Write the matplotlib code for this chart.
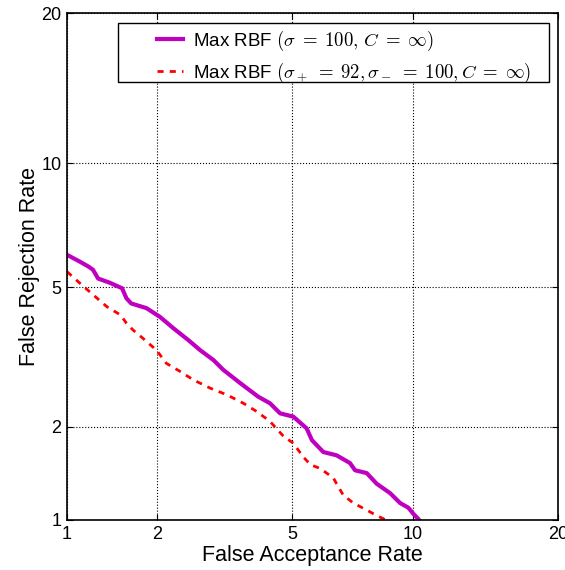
import numpy as np
import matplotlib
matplotlib.use('Agg')
import matplotlib.pyplot as plt
from matplotlib.patches import Rectangle
from matplotlib.ticker import FixedLocator, FixedFormatter
from statistics import NormalDist

# DET curve values (percent)
far_sigma = [1.0, 1.11, 1.19, 1.23, 1.28, 1.40, 1.54, 1.59, 1.65, 1.85, 2.04, 2.25,
             2.50, 2.72, 2.98, 3.19, 3.57, 4.02, 4.34, 4.63, 5.03, 5.46, 5.64, 6.04,
             6.54, 7.07, 7.28, 7.78, 8.23, 8.86, 9.36, 9.78, 10.04, 10.3, 10.45]
frr_sigma = [6.06, 5.82, 5.65, 5.55, 5.27, 5.14, 4.97, 4.68, 4.53, 4.40, 4.17, 3.88,
             3.60, 3.37, 3.16, 2.96, 2.71, 2.47, 2.36, 2.20, 2.15, 1.98, 1.82, 1.67,
             1.63, 1.54, 1.46, 1.43, 1.32, 1.23, 1.14, 1.10, 1.05, 1.01, 0.98]

far_split = [1.0, 1.11, 1.23, 1.37, 1.52, 1.59, 1.67, 1.80, 1.99, 2.14, 2.36, 2.59,
             2.91, 3.27, 3.65, 3.98, 4.34, 4.73, 5.03, 5.35, 5.60, 5.93, 6.41, 6.80,
             7.21, 7.78, 8.23, 8.54, 8.75]
frr_split = [5.49, 5.12, 4.78, 4.44, 4.22, 4.01, 3.84, 3.64, 3.37, 3.09, 2.93, 2.77,
             2.62, 2.50, 2.36, 2.23, 2.08, 1.87, 1.78, 1.61, 1.52, 1.48, 1.38, 1.21,
             1.14, 1.08, 1.035, 1.01, 0.98]

tick_vals = [1, 2, 5, 10, 20]
tick_text = ['1', '2', '5', '10', '20']

_nd = NormalDist()


def probit(v):
    p = np.clip(np.asarray(v, float) / 100.0, 1e-6, 1 - 1e-6)
    return np.vectorize(_nd.inv_cdf, otypes=[float])(p)


def inv_probit(z):
    z = np.asarray(z, float)
    return 100.0 * np.vectorize(_nd.cdf, otypes=[float])(z)


plt.rcParams['font.family'] = ['Liberation Sans', 'DejaVu Sans']
plt.rcParams['mathtext.fontset'] = 'cm'

fig = plt.figure(figsize=(5.65, 5.70), dpi=100)
ax = fig.add_axes([67 / 565, 50 / 570, 491 / 565, 507 / 570])

ax.set_xscale('function', functions=(probit, inv_probit))
ax.set_yscale('function', functions=(probit, inv_probit))

ax.plot(far_sigma, frr_sigma, color='#c000c0', lw=3,
        label=r'Max RBF $(\sigma\;=\;100,\,C\;=\;\infty)$')
ax.plot(far_split, frr_split, color='#ff0000', lw=2, ls=(0, (2.2, 2.2)),
        label=r'Max RBF $(\sigma_+\;=\;92,\sigma_-\;=\;100,C\;=\;\infty)$')

ax.set_xlim(1, 20)
ax.set_ylim(1, 20)
for axis in (ax.xaxis, ax.yaxis):
    axis.set_major_locator(FixedLocator(tick_vals))
    axis.set_major_formatter(FixedFormatter(tick_text))
ax.minorticks_off()
ax.tick_params(direction='in', length=4, width=0.8, top=True, right=True,
               labelsize=13, pad=4)
ax.grid(True, ls=':', color='black', lw=0.8)
for s in ax.spines.values():
    s.set_linewidth(1.2)

ax.set_xlabel('False Acceptance Rate', fontsize=15.5, labelpad=2)
ax.set_ylabel('False Rejection Rate', fontsize=15.5, labelpad=1)

# MATLAB-style legend: wide box with big side margins
ax.add_patch(Rectangle((0.1039, 0.8639), 0.8778, 0.1164, transform=ax.transAxes,
                       facecolor='white', edgecolor='black', lw=1.0, zorder=4))
leg = ax.legend(loc='upper left', bbox_to_anchor=(0.1833, 0.9685),
                borderaxespad=0, borderpad=0, fontsize=13.5, frameon=False,
                handlelength=1.4, labelspacing=0.4, handletextpad=0.5)
leg.set_zorder(5)

fig.savefig('out.png', dpi=100)
